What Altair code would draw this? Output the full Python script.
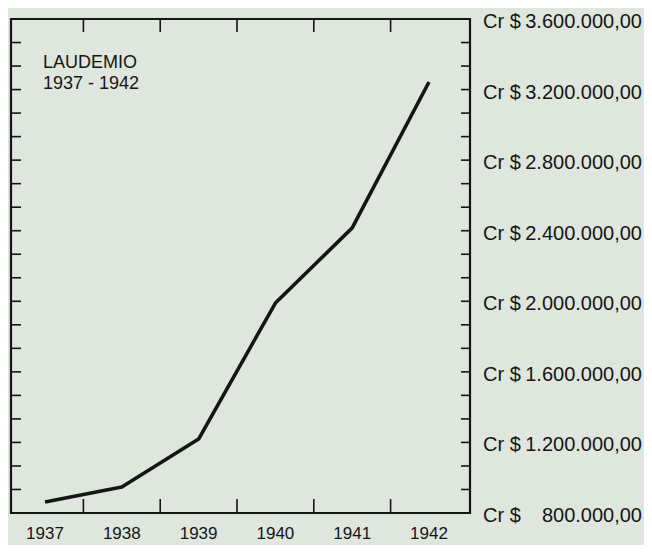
import altair as alt
import pandas as pd

# data
years = [1937, 1938, 1939, 1940, 1941, 1942]
values = [862000, 947000, 1219000, 1990000, 2416000, 3243000]

year_ticks = [1937.5, 1938.5, 1939.5, 1940.5, 1941.5]
value_ticks = [800000 + k * 400000 / 3 for k in range(1, 21)]

label_values = [800000, 1200000, 1600000, 2000000, 2400000, 2800000, 3200000, 3600000]
label_numbers = ["800.000,00", "1.200.000,00", "1.600.000,00", "2.000.000,00",
                 "2.400.000,00", "2.800.000,00", "3.200.000,00", "3.600.000,00"]
year_labels = ["1937", "1938", "1939", "1940", "1941", "1942"]
title_line1 = "LAUDEMIO"
title_line2 = "1937 - 1942"

W, H = 459, 494
FONT = "Liberation Sans"
INK = "#151515"
BG = "#dfe6de"

xs = alt.Scale(domain=[1936.557, 1942.534], zero=False, nice=False)
ys = alt.Scale(domain=[800000, 3600000], zero=False, nice=False)

df = pd.DataFrame({"year": years, "value": values, "label": year_labels})
df_xt = pd.DataFrame({"t": year_ticks})
df_yt = pd.DataFrame({"t": value_ticks})
df_lab = pd.DataFrame({"v": label_values, "n": label_numbers})
df_one = pd.DataFrame({"a": [0]})

line = alt.Chart(df).mark_line(color=INK, strokeWidth=3.6, strokeJoin="round").encode(
    x=alt.X("year:Q", scale=xs, axis=None),
    y=alt.Y("value:Q", scale=ys, axis=None),
)

bottom_ticks = alt.Chart(df_xt).mark_rule(color=INK, strokeWidth=1.6).encode(
    x=alt.X("t:Q", scale=xs, axis=None), y=alt.value(H), y2=alt.value(H - 14)
)
top_ticks = alt.Chart(df_xt).mark_rule(color=INK, strokeWidth=1.6).encode(
    x=alt.X("t:Q", scale=xs, axis=None), y=alt.value(0), y2=alt.value(13)
)
left_ticks = alt.Chart(df_yt).mark_rule(color=INK, strokeWidth=1.6).encode(
    y=alt.Y("t:Q", scale=ys, axis=None), x=alt.value(0), x2=alt.value(10)
)
right_ticks = alt.Chart(df_yt).mark_rule(color=INK, strokeWidth=1.6).encode(
    y=alt.Y("t:Q", scale=ys, axis=None), x=alt.value(W - 9), x2=alt.value(W)
)

year_text = alt.Chart(df).mark_text(
    font=FONT, fontSize=17, color=INK, baseline="middle", align="center"
).encode(x=alt.X("year:Q", scale=xs, axis=None), y=alt.value(H + 21), text="label:N")

cr_text = alt.Chart(df_lab).mark_text(
    font=FONT, fontSize=20, color=INK, baseline="middle", align="left", dy=3
).encode(y=alt.Y("v:Q", scale=ys, axis=None), x=alt.value(W + 13), text=alt.value("Cr $"))

num_text = alt.Chart(df_lab).mark_text(
    font=FONT, fontSize=20, color=INK, baseline="middle", align="right", dy=3
).encode(y=alt.Y("v:Q", scale=ys, axis=None), x=alt.value(W + 172), text="n:N")

title1 = alt.Chart(df_one).mark_text(
    font=FONT, fontSize=18, color=INK, baseline="middle", align="left"
).encode(x=alt.value(32), y=alt.value(44), text=alt.value(title_line1))
title2 = alt.Chart(df_one).mark_text(
    font=FONT, fontSize=18, color=INK, baseline="middle", align="left"
).encode(x=alt.value(32), y=alt.value(65), text=alt.value(title_line2))

chart = alt.layer(
    line, bottom_ticks, top_ticks, left_ticks, right_ticks,
    year_text, cr_text, num_text, title1, title2
).properties(
    width=W, height=H, background=BG,
    autosize=alt.AutoSizeParams(type="none"),
    padding={"left": 3, "top": 11, "right": 174, "bottom": 32},
).configure_view(stroke=INK, strokeWidth=2.2, fill=BG)

chart.save("out.html", embed_options={"renderer": "svg", "actions": False})
